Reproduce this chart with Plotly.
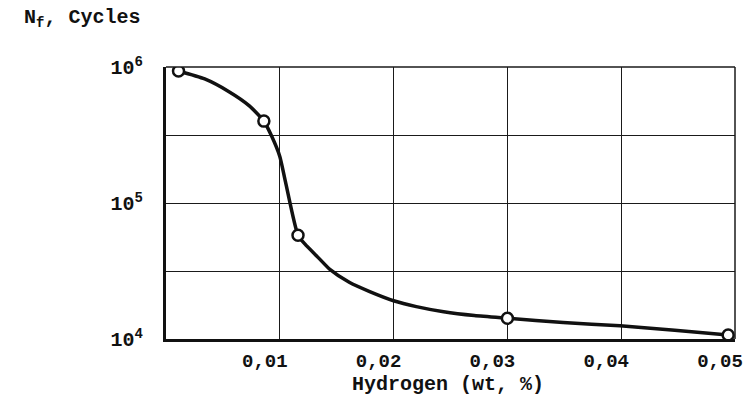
import plotly.graph_objects as go

# measured points (open circles)
hydrogen_pts = [0.0011, 0.0086, 0.0116, 0.0300, 0.0494]
cycles_pts = [9.35e5, 4.0e5, 5.8e4, 1.42e4, 1.07e4]

# traced curve
curve_x = [0.0011, 0.0034, 0.0055, 0.0073, 0.0086, 0.0093, 0.0100, 0.0105,
           0.0116, 0.0122, 0.0134, 0.0144, 0.0161, 0.0179, 0.0200, 0.0220,
           0.0244, 0.0271, 0.0300, 0.0349, 0.0399, 0.0447, 0.0494]
curve_y = [9.35e5, 8.17e5, 6.61e5, 5.2e5, 4.0e5, 3.08e5, 2.2e5, 1.43e5,
           5.8e4, 5.0e4, 3.95e4, 3.25e4, 2.61e4, 2.23e4, 1.91e4, 1.73e4,
           1.585e4, 1.486e4, 1.42e4, 1.32e4, 1.25e4, 1.16e4, 1.07e4]

x_tickvals = [0.01, 0.02, 0.03, 0.04, 0.05]
x_ticktext = ["0,01", "0,02", "0,03", "0,04", "0,05"]
y_tickvals = [1e4, 10 ** 4.5, 1e5, 10 ** 5.5, 1e6]
y_ticktext = ["10<sup>4</sup>", "", "10<sup>5</sup>", "", "10<sup>6</sup>"]

FONT = "Liberation Mono"
INK = "#111111"

fig = go.Figure()
fig.add_trace(go.Scatter(
    x=curve_x, y=curve_y, mode="lines",
    line=dict(color=INK, width=3.5, shape="spline", smoothing=0.6),
    hoverinfo="skip", showlegend=False,
))
fig.add_trace(go.Scatter(
    x=hydrogen_pts, y=cycles_pts, mode="markers",
    marker=dict(symbol="circle", size=11, color="white",
                line=dict(color=INK, width=2.5)),
    showlegend=False,
))

fig.update_layout(
    width=754, height=399,
    margin=dict(l=166, r=19, t=67, b=60),
    paper_bgcolor="white", plot_bgcolor="white",
    font=dict(family=FONT, size=19, color=INK, weight=700),
    xaxis=dict(
        range=[0, 0.05], tickvals=x_tickvals, ticktext=x_ticktext,
        showgrid=True, gridcolor="#1a1a1a", gridwidth=1.3,
        showline=True, linecolor=INK, linewidth=3, mirror=False,
        ticks="", zeroline=False, ticklabelshift=-15, ticklabelstandoff=2,
        automargin=False,
        tickfont=dict(family=FONT, size=19, color=INK, weight=700),
    ),
    yaxis=dict(
        type="log", range=[4, 6], tickvals=y_tickvals, ticktext=y_ticktext,
        showgrid=True, gridcolor="#1a1a1a", gridwidth=1.3,
        showline=True, linecolor=INK, linewidth=3, mirror=False,
        ticks="", zeroline=False, ticklabelstandoff=16, automargin=False,
        tickfont=dict(family=FONT, size=20, color=INK, weight=700),
    ),
    shapes=[
        dict(type="line", xref="paper", yref="paper", x0=0, x1=1, y0=1, y1=1,
             line=dict(color="#1a1a1a", width=1.5)),
        dict(type="line", xref="paper", yref="paper", x0=1, x1=1, y0=0, y1=1,
             line=dict(color="#1a1a1a", width=1.5)),
    ],
    annotations=[
        dict(text="N<sub>f</sub>, Cycles", xref="paper", yref="paper",
             x=-0.253, y=1.18, xanchor="left", yanchor="middle",
             showarrow=False,
             font=dict(family=FONT, size=20, color=INK, weight=700)),
        dict(text="Hydrogen (wt, %)", xref="paper", yref="paper",
             x=0.4956, y=-0.168, xanchor="center", yanchor="middle",
             showarrow=False,
             font=dict(family=FONT, size=20, color=INK, weight=700)),
    ],
)

fig.write_html("out.html")
